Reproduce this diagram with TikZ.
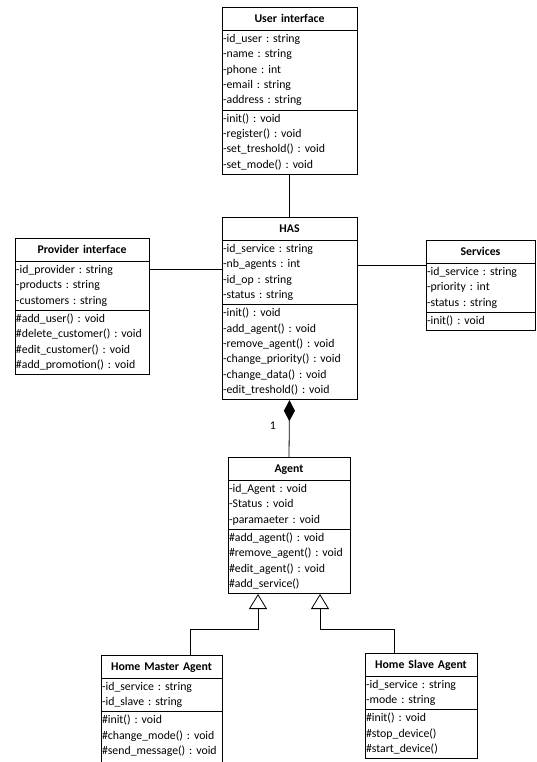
\documentclass[tikz,border=0pt]{standalone}
\usepackage{fontspec}
\setmainfont{Carlito}
\usepackage{tikz}
\usetikzlibrary{positioning,shapes.multipart,arrows.meta}
\frenchspacing
\tikzset{class box/.style={draw, line width=0.8pt, rectangle split, rectangle split parts=3, inner xsep=1pt, inner ysep=1pt, anchor=north, align=left, font=\fontsize{11.8}{15.4}\selectfont},}
\newcommand{\ttl}[1]{\centering\rule[-6pt]{0pt}{20pt}\textbf{#1}\par}
\newcommand{\ed}[2]{\draw[line width=0.8pt] (#1) -- (#2);}
\newcommand{\gen}[3]{\draw[line width=0.8pt, -{Triangle[open, length=15pt, width=18pt]}] (#1) -- ++(0,#2) -| (#3);}

\begin{document}
\begin{tikzpicture}[x=1pt, y=-1pt]
        \clip (0,0) rectangle (537,762);
        \fill[white] (0,0) rectangle (537,762);

        \node[class box, text width=133pt] (user) at (289.5,7) {\ttl{User interface}
            \nodepart{two}\strut-id\_user : string\\-name : string\\-phone : int\\-email : string\\-address : string\strut
            \nodepart{three}\strut-init() : void\\-register() : void\\-set\_treshold() : void\\-set\_mode() : void\strut};
        \node[class box, text width=133pt] (has) at (289.5,217) {\ttl{HAS}
            \nodepart{two}\strut-id\_service : string\\-nb\_agents : int\\-id\_op : string\\-status : string\strut
            \nodepart{three}\strut-init() : void\\-add\_agent() : void\\-remove\_agent() : void\\-change\_priority() : void\\-change\_data() : void\\-edit\_treshold() : void\strut};
        \node[class box, text width=132pt] (prov) at (82,238) {\ttl{Provider interface}
            \nodepart{two}\strut-id\_provider : string\\-products : string\\-customers : string\strut
            \nodepart{three}\strut\#add\_user() : void\\\#delete\_customer() : void\\\#edit\_customer() : void\\\#add\_promotion() : void\strut};
        \node[class box, text width=107pt] (serv) at (480.5,240) {\ttl{Services}
            \nodepart{two}\strut-id\_service : string\\-priority : int\\-status : string\strut
            \nodepart{three}\strut-init() : void\strut};
        \node[class box, text width=120pt] (agent) at (289,457) {\ttl{Agent}
            \nodepart{two}\strut-id\_Agent : void\\-Status : void\\-paramaeter : void\strut
            \nodepart{three}\strut\#add\_agent() : void\\\#remove\_agent() : void\\\#edit\_agent() : void\\\#add\_service()\strut};
        \node[class box, text width=119pt] (master) at (161.5,655) {\ttl{Home Master Agent}
            \nodepart{two}\strut-id\_service : string\\-id\_slave : string\strut
            \nodepart{three}\strut\#init() : void\\\#change\_mode() : void\\\#send\_message() : void\rule[-9pt]{0pt}{1pt}};
        \node[class box, text width=110pt] (slave) at (421,653) {\ttl{Home Slave Agent}
            \nodepart{two}\strut-id\_service : string\\-mode : string\strut
            \nodepart{three}\strut\#init() : void\\\#stop\_device()\\\#start\_device()\strut};

        \ed{user.south}{has.north}
        \ed{prov.east |- 0,269}{has.west |- 0,269}
        \ed{has.east |- 0,265}{serv.west |- 0,265}
        \draw[line width=0.8pt, {Diamond[length=21pt, width=11pt]}-] (has.south) -- node[pos=0.45, left=13pt, inner sep=0pt, font=\fontsize{11.8}{12}\selectfont] {1} (agent.north);
        \gen{[xshift=29pt]master.north}{-26}{[xshift=-31pt]agent.south}
        \gen{[xshift=-27pt]slave.north}{-24}{[xshift=31pt]agent.south}
    \end{tikzpicture}
\end{document}
